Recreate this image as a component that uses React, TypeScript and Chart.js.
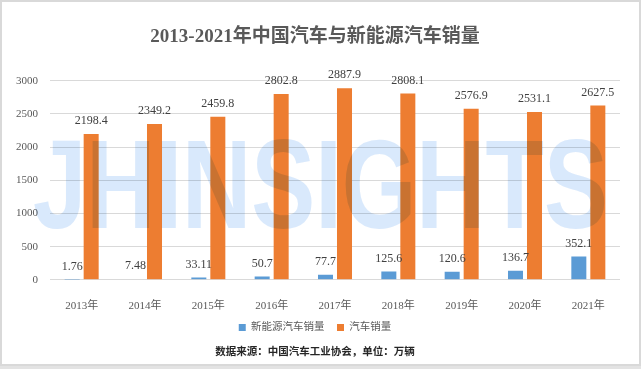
import { useEffect, useRef } from "react";
import { Chart, registerables } from "chart.js";

Chart.register(...registerables);

const categories = ["2013年", "2014年", "2015年", "2016年", "2017年", "2018年", "2019年", "2020年", "2021年"];
const nevSales = [1.76, 7.48, 33.11, 50.7, 77.7, 125.6, 120.6, 136.7, 352.1];
const carSales = [2198.4, 2349.2, 2459.8, 2802.8, 2887.9, 2808.1, 2576.9, 2531.1, 2627.5];
const seriesNames = ["新能源汽车销量", "汽车销量"];
const yMin = 0;
const yMax = 3000;
const yStep = 500;
const titleText = "2013-2021年中国汽车与新能源汽车销量";
const footerText = "数据来源：中国汽车工业协会，单位：万辆";
const watermarkText = "JHINSIGHTS";

const SERIF = '"Liberation Serif", "Noto Sans CJK SC", serif';
const BLUE = "#5b9bd5";
const ORANGE = "#ed7d31";

const backgroundPlugin = {
  id: "bgFrame",
  beforeDraw(chart: any) {
    const { ctx, width, height } = chart;
    ctx.save();
    ctx.fillStyle = "#ffffff";
    ctx.fillRect(0, 0, width, height);
    ctx.fillStyle = "#e3e3e3";
    ctx.fillRect(0, height - 4, width, 4);
    ctx.strokeStyle = "#d9d9d9";
    ctx.lineWidth = 2;
    ctx.strokeRect(1, 1, width - 2, height - 5);
    ctx.restore();
  },
};

const watermarkPlugin = {
  id: "watermark",
  afterDatasetsDraw(chart: any) {
    const { ctx, chartArea } = chart;
    ctx.save();
    ctx.globalCompositeOperation = "multiply";
    ctx.fillStyle = "#d9e9fc";
    ctx.font = 'bold 126px "Liberation Sans", Arial, sans-serif';
    ctx.textBaseline = "alphabetic";
    const w = ctx.measureText(watermarkText).width;
    const target = chartArea.right - chartArea.left + 5;
    ctx.translate(chartArea.left - 17, chartArea.top + 147);
    ctx.scale(target / w, 1);
    ctx.fillText(watermarkText, 0, 0);
    ctx.restore();
  },
};

const labelPlugin = {
  id: "valueLabels",
  afterDatasetsDraw(chart: any) {
    const { ctx } = chart;
    ctx.save();
    ctx.font = `12px ${SERIF}`;
    ctx.fillStyle = "#404040";
    ctx.textAlign = "center";
    ctx.textBaseline = "middle";
    chart.data.datasets.forEach((ds: any, di: number) => {
      const meta = chart.getDatasetMeta(di);
      meta.data.forEach((bar: any, i: number) => {
        ctx.fillText(String(ds.data[i]), bar.x, bar.y - 13);
      });
    });
    ctx.restore();
  },
};

export default function App() {
  const canvasRef = useRef<HTMLCanvasElement | null>(null);

  useEffect(() => {
    document.body.style.margin = "0";
    const canvas = canvasRef.current;
    if (!canvas) return;
    const chart = new Chart(canvas, {
      type: "bar",
      data: {
        labels: categories,
        datasets: [
          {
            label: seriesNames[0],
            data: nevSales,
            backgroundColor: BLUE,
            categoryPercentage: 0.6,
            barPercentage: 0.79,
          },
          {
            label: seriesNames[1],
            data: carSales,
            backgroundColor: ORANGE,
            categoryPercentage: 0.6,
            barPercentage: 0.79,
          },
        ],
      },
      options: {
        responsive: false,
        animation: false,
        devicePixelRatio: 1,
        layout: { padding: { left: 10, right: 21, top: 0, bottom: 4 } },
        plugins: {
          tooltip: { enabled: false },
          title: {
            display: true,
            text: titleText,
            color: "#595959",
            font: { family: SERIF, size: 19, weight: "bold" },
            padding: { top: 26, bottom: 32 },
          },
          legend: {
            display: true,
            position: "bottom",
            labels: {
              boxWidth: 7,
              boxHeight: 7,
              padding: 12.5,
              color: "#595959",
              font: { family: SERIF, size: 10.5 },
            },
          },
          subtitle: {
            display: true,
            position: "bottom",
            text: footerText,
            color: "#262626",
            font: { family: SERIF, size: 10.5, weight: "bold" },
            padding: { top: 3.2, bottom: 6.4 },
          },
        },
        scales: {
          x: {
            grid: { display: false },
            border: { display: false },
            ticks: {
              color: "#595959",
              font: { family: SERIF, size: 11 },
              padding: 12,
            },
            afterFit(scale: any) {
              scale.height = 30;
            },
          },
          y: {
            min: yMin,
            max: yMax,
            grid: { color: "#d9d9d9", drawTicks: false },
            border: { display: false },
            ticks: {
              stepSize: yStep,
              color: "#595959",
              font: { family: SERIF, size: 11 },
              padding: 12,
              callback: (v: any) => String(v),
            },
            afterFit(scale: any) {
              scale.width = 40;
            },
          },
        },
      },
      plugins: [backgroundPlugin, watermarkPlugin, labelPlugin],
    } as any);
    return () => chart.destroy();
  }, []);

  return (
    <div style={{ width: 641, height: 369 }}>
      <canvas ref={canvasRef} width={641} height={369} style={{ display: "block" }} />
    </div>
  );
}
